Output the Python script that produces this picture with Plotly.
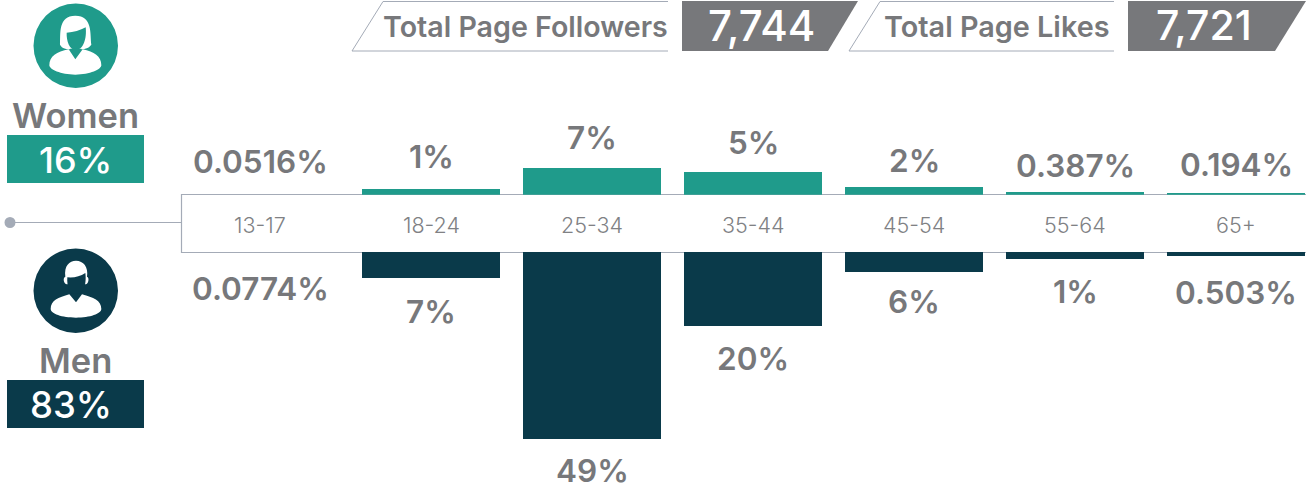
import plotly.graph_objects as go

age_groups = ["13-17", "18-24", "25-34", "35-44", "45-54", "55-64", "65+"]
women_values = [0, 1.5, 7.0, 5.9, 2.0, 0.7, 0.45]
men_values = [0, 6.8, 49.0, 19.4, 5.2, 1.8, 1.05]
women_labels = ["0.0516%", "1%", "7%", "5%", "2%", "0.387%", "0.194%"]
men_labels = ["0.0774%", "7%", "49%", "20%", "6%", "1%", "0.503%"]
women_total = "16%"
men_total = "83%"
followers_total = "7,744"
likes_total = "7,721"

TEAL = "#1f9b8b"
NAVY = "#0a3a4a"
GRAY = "#77787b"
LINE = "#a4abb7"
FONT = "Inter"
W, H = 1306, 490
PX_PER_PCT = 3.82
BASE_W, BASE_M = 194.7, 252.0

fig = go.Figure()
# helper pixel-space subplot (drawn first, behind the bars)
fig.add_trace(go.Scatter(x=[], y=[], xaxis="x", yaxis="y", showlegend=False, hoverinfo="skip"))
fig.add_trace(go.Bar(x=age_groups, y=women_values, xaxis="x2", yaxis="y2", marker_color=TEAL,
                     marker_line_width=0, width=0.857, showlegend=False, hoverinfo="skip"))
fig.add_trace(go.Bar(x=age_groups, y=men_values, xaxis="x3", yaxis="y3", marker_color=NAVY,
                     marker_line_width=0, width=0.857, showlegend=False, hoverinfo="skip"))

xr = [(0 - 270.2) / 161, (W - 270.2) / 161]
cat_axis = dict(type="category", categoryorder="array", categoryarray=age_groups, range=xr,
                autorange=False, visible=False, fixedrange=True, domain=[0, 1])
fig.update_layout(
    width=W, height=H, autosize=False, margin=dict(l=0, r=0, t=0, b=0),
    paper_bgcolor="white", plot_bgcolor="rgba(0,0,0,0)", bargap=0, showlegend=False,
    xaxis=dict(range=[0, W], autorange=False, visible=False, domain=[0, 1], fixedrange=True),
    yaxis=dict(range=[H, 0], autorange=False, visible=False, domain=[0, 1], fixedrange=True),
    xaxis2=dict(cat_axis, anchor="y2"),
    xaxis3=dict(cat_axis, anchor="y3"),
    yaxis2=dict(domain=[1 - BASE_W / H, 1], range=[0, BASE_W / PX_PER_PCT], autorange=False,
                visible=False, anchor="x2", fixedrange=True),
    yaxis3=dict(domain=[0, 1 - BASE_M / H], range=[(H - BASE_M) / PX_PER_PCT, 0], autorange=False,
                visible=False, anchor="x3", fixedrange=True),
)

def poly(pts):
    return "M " + " L ".join(f"{x},{y}" for x, y in pts) + " Z"

def icon(d, ox, oy):
    # path in 3x zoom units, mapped to pixel units
    out = []
    for tok in d.split():
        if tok.isalpha():
            out.append(tok)
        else:
            u, v = tok.split(",")
            out.append(f"{ox + float(u) / 3:.2f},{oy + float(v) / 3:.2f}")
    return " ".join(out)

shapes = []
def add(**k):
    k.setdefault("xref", "x"); k.setdefault("yref", "y"); k.setdefault("layer", "below")
    k.setdefault("line", dict(width=0))
    shapes.append(k)

# category frame
add(type="line", x0=10, x1=181, y0=222.5, y1=222.5, line=dict(color=LINE, width=1.2))
add(type="circle", x0=4.5, x1=15.5, y0=217, y1=228, fillcolor=LINE)
add(type="path", path="M 1306,194.5 L 181.5,194.5 L 181.5,252.5 L 1306,252.5",
    line=dict(color=LINE, width=1.2))

# badges
add(type="rect", x0=7, x1=144, y0=135, y1=183, fillcolor=TEAL)
add(type="rect", x0=7, x1=144, y0=380, y1=428, fillcolor=NAVY)

# circles and icons
add(type="circle", x0=33.5, x1=118, y0=3.5, y1=88, fillcolor=TEAL)
add(type="circle", x0=33.5, x1=118, y0=248.5, y1=333, fillcolor=NAVY)
woman = [
 ("M 90,134 C 92,100 84,47 136,47 C 188,47 180,100 184,134 C 176,146 160,148 150,148 L 122,148 C 110,148 96,146 90,134 Z", "white"),
 ("M 110,98 Q 142,96 167,82 C 171,115 160,150 138,150 C 118,150 109,122 110,98 Z", TEAL),
 ("M 120,146 L 154,146 L 154,156 L 136,178 L 120,156 Z", TEAL),
 ("M 58,196 C 58,168 80,156 116,148 L 136,178 L 158,148 C 192,156 214,168 214,196 C 214,208 180,224 136,224 C 92,224 58,208 58,196 Z", "white"),
]
man = [
 ("M 106,95 C 102,62 118,47 138,47 C 160,47 176,66 171,95 C 178,97 177,114 168,118 L 110,118 C 99,114 99,97 106,95 Z", "white"),
 ("M 112,97 Q 142,100 166,84 C 171,120 158,150 138,150 C 118,150 110,122 112,97 Z", NAVY),
 ("M 122,146 L 154,146 L 154,156 L 138,172 L 122,156 Z", NAVY),
 ("M 62,192 C 62,166 85,158 118,148 L 138,172 L 156,148 C 190,158 214,166 214,192 C 214,206 180,218 138,218 C 96,218 62,206 62,192 Z", "white"),
]
for d, c in woman:
    add(type="path", path=icon(d, 30, 0), fillcolor=c)
for d, c in man:
    add(type="path", path=icon(d, 30, 245), fillcolor=c)

# header banners
add(type="path", path="M 668,51 L 352,51 L 383,1.5 L 668,1.5", line=dict(color=LINE, width=1))
add(type="path", path=poly([(682, 1), (858, 1), (828, 51), (682, 51)]), fillcolor=GRAY)
add(type="path", path="M 1114,51 L 849,51 L 880,1.5 L 1114,1.5", line=dict(color=LINE, width=1))
add(type="path", path=poly([(1128, 1), (1306, 1), (1275, 51), (1128, 51)]), fillcolor=GRAY)
fig.update_layout(shapes=shapes)

ann = []
def text(t, x, y, size, color=GRAY, weight=600, **k):
    k.setdefault("xref", "x"); k.setdefault("yref", "y")
    ann.append(dict(text=t, x=x, y=y, showarrow=False, xanchor="center", yanchor="middle",
                    font=dict(family=FONT, size=size, color=color, weight=weight), **k))

text("Women", 75, 115, 34.5)
text("Men", 75, 360, 34.5)
text(women_total, 75, 160, 36, "white", 500)
text(men_total, 70.5, 405, 36.5, "white", 500)
text("Total Page Followers", 525.5, 26, 28.6)
text("Total Page Likes", 997, 26, 28.8)
text(followers_total, 761, 25, 42, "white", 500)
text(likes_total, 1204, 25, 41, "white", 500)

women_gap = [33, 32, 30, 30, 27, 27, 28]
men_gap = [36, 34, 31, 32, 30, 33, 36]
first_shift = [-10, 0, 0, 0, 0, 0, 0]
for i, g in enumerate(age_groups):
    text(women_labels[i], g, women_values[i], 31.5, xref="x2", yref="y2", yshift=women_gap[i], xshift=first_shift[i])
    text(men_labels[i], g, men_values[i], 31.5, xref="x3", yref="y3", yshift=-men_gap[i], xshift=first_shift[i])
    text(g, g, 0, 21.5, "#808184", 300, xref="x3", yref="y3", yshift=27, xshift=first_shift[i])
fig.update_layout(annotations=ann)

fig.write_html("out.html", config=dict(displayModeBar=False),
               post_script="document.body.style.margin='0';document.documentElement.style.overflow='hidden';")
